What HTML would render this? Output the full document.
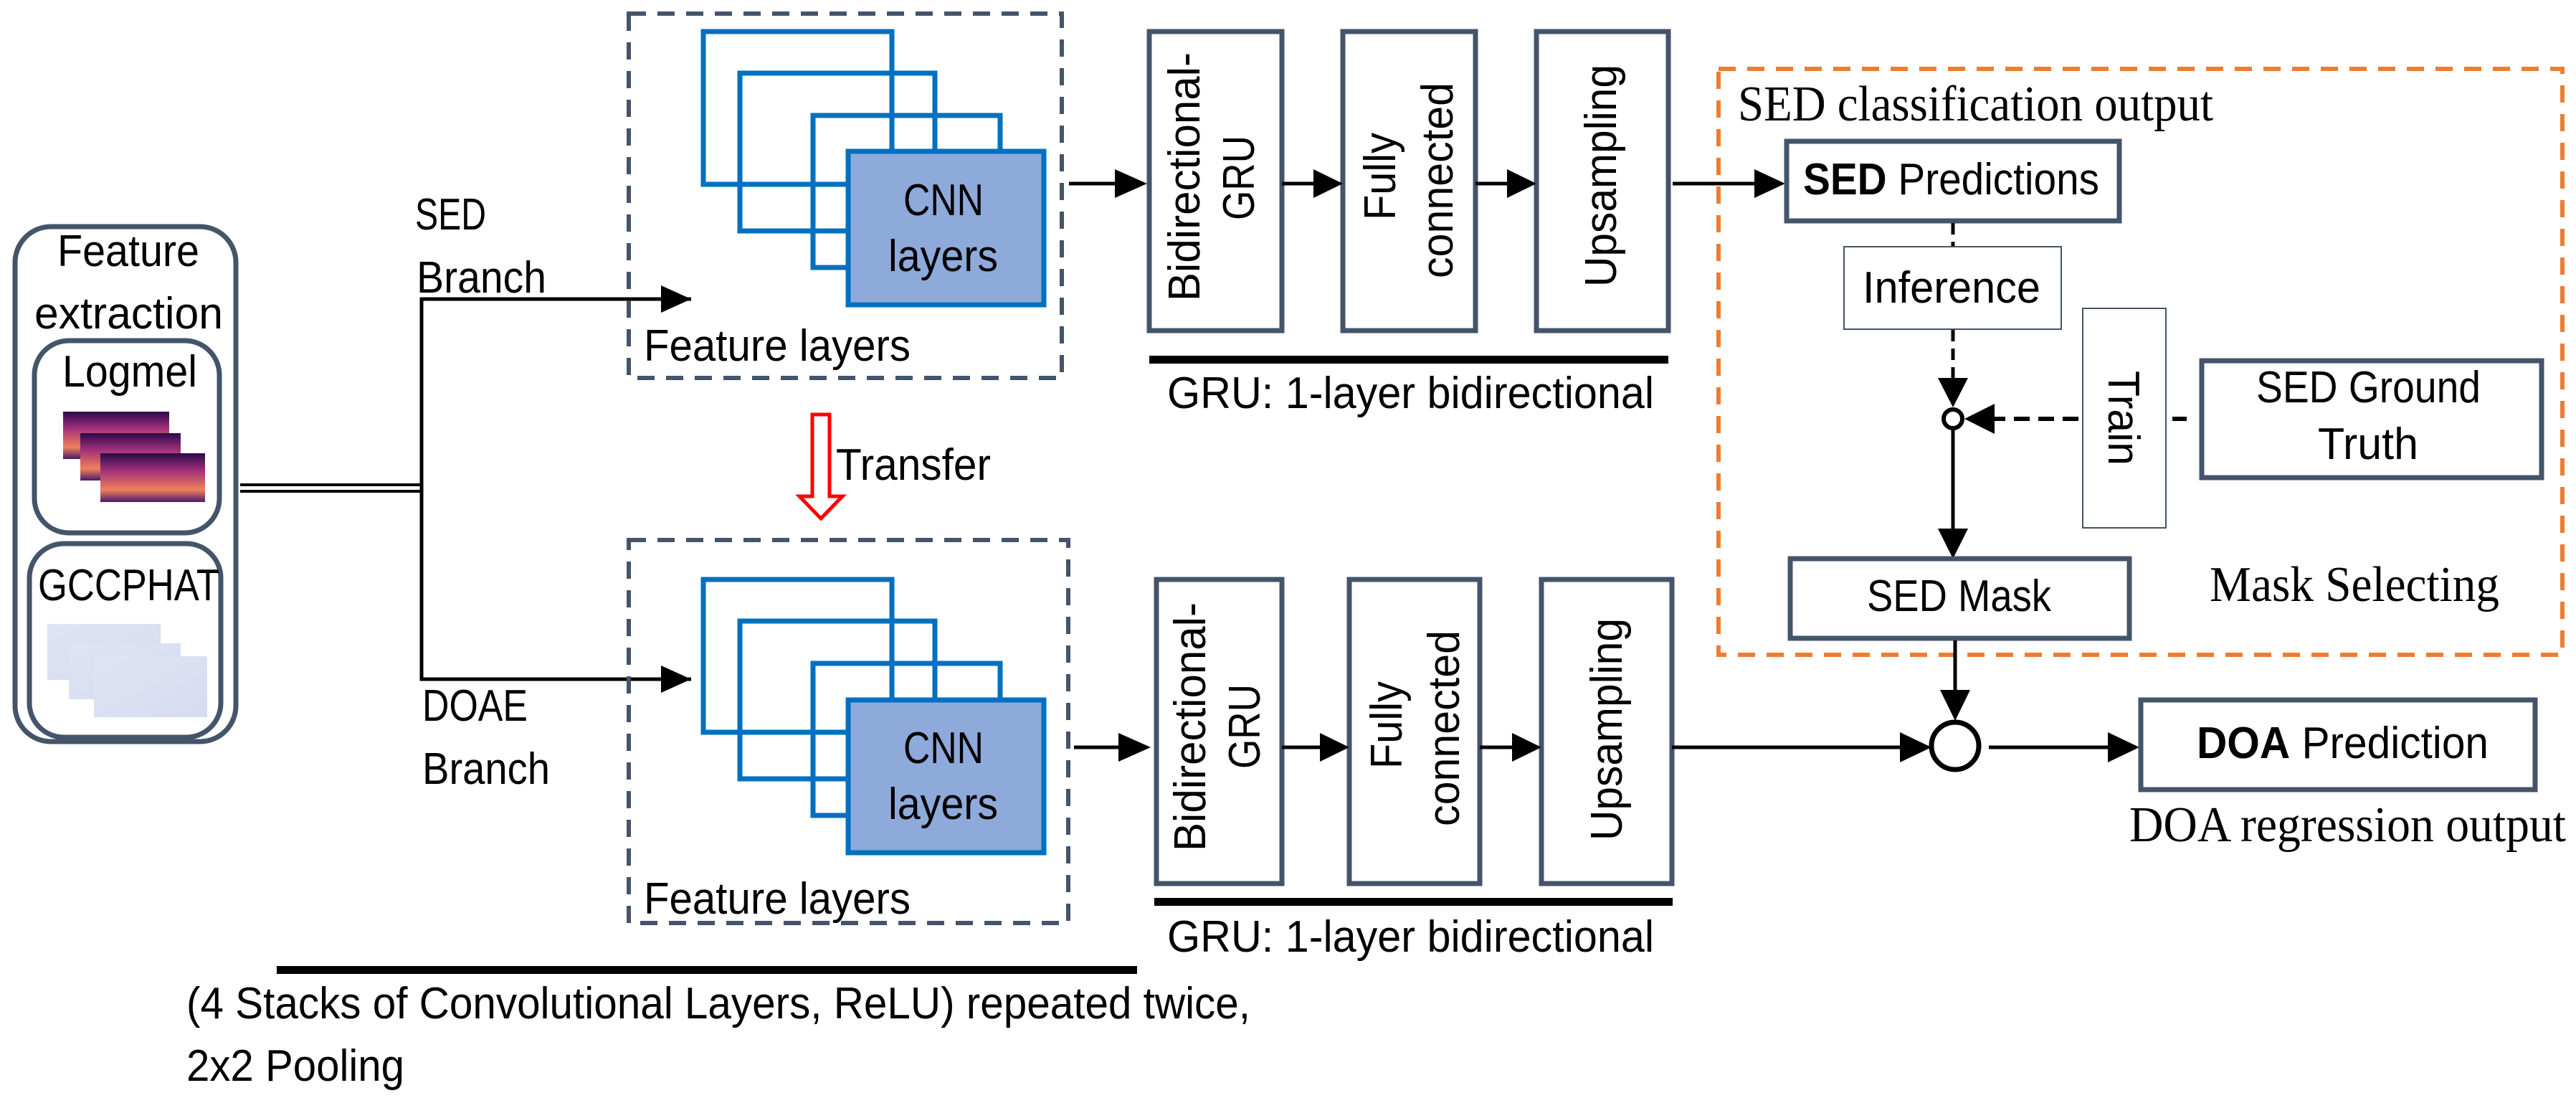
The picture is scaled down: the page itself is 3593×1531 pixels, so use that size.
<!DOCTYPE html>
<html><head><meta charset="utf-8"><style>
html,body{margin:0;padding:0;background:#fff;}
svg{display:block;}
text{font-family:"Liberation Sans",sans-serif;fill:#000;}
.s{font-size:62px;}
.t{font-family:"Liberation Serif",serif;font-size:70px;}
</style></head><body>
<svg width="3593" height="1531" viewBox="0 0 3593 1531" xmlns="http://www.w3.org/2000/svg">
<defs>
<linearGradient id="lm" x1="0" y1="0" x2="0" y2="1">
<stop offset="0" stop-color="#2a0a4a"/><stop offset="0.35" stop-color="#a0307a"/><stop offset="0.75" stop-color="#f0805a"/><stop offset="1" stop-color="#4a1a6a"/></linearGradient>
<linearGradient id="gc" x1="0" y1="0" x2="1" y2="1">
<stop offset="0" stop-color="#dfe4f4"/><stop offset="1" stop-color="#d6dcf0"/></linearGradient>
</defs>

<!-- Feature extraction -->
<rect x="21" y="316" width="308" height="718" rx="50" fill="none" stroke="#44546a" stroke-width="7"/>
<text class="s" x="80" y="371" textLength="198" lengthAdjust="spacingAndGlyphs">Feature</text>
<text class="s" x="48" y="458" textLength="263" lengthAdjust="spacingAndGlyphs">extraction</text>
<rect x="48" y="475" width="258" height="268" rx="48" fill="none" stroke="#44546a" stroke-width="7"/>
<text class="s" x="87" y="539" textLength="188" lengthAdjust="spacingAndGlyphs">Logmel</text>
<rect x="88" y="574" width="148" height="66" fill="url(#lm)"/>
<rect x="112" y="604" width="140" height="66" fill="url(#lm)"/>
<rect x="140" y="632" width="146" height="68" fill="url(#lm)"/>
<rect x="41" y="758" width="267" height="270" rx="48" fill="none" stroke="#44546a" stroke-width="7"/>
<text class="s" x="53" y="837" textLength="253" lengthAdjust="spacingAndGlyphs">GCCPHAT</text>
<rect x="66" y="870" width="158" height="78" fill="url(#gc)"/>
<rect x="96" y="897" width="156" height="78" fill="url(#gc)"/>
<rect x="131" y="915" width="158" height="85" fill="url(#gc)"/>

<!-- connectors left -->
<line x1="335" y1="676" x2="588" y2="676" stroke="#000" stroke-width="4"/>
<line x1="335" y1="685" x2="588" y2="685" stroke="#000" stroke-width="4"/>
<polyline points="964,417 588,417 588,947 964,947" fill="none" stroke="#000" stroke-width="5"/>
<polygon points="964,417 922,398 922,436" fill="#000"/>
<polygon points="964,947 922,928 922,966" fill="#000"/>
<text class="s" x="579" y="320" textLength="99" lengthAdjust="spacingAndGlyphs">SED</text>
<text class="s" x="581" y="408" textLength="181" lengthAdjust="spacingAndGlyphs">Branch</text>
<text class="s" x="589" y="1005" textLength="147" lengthAdjust="spacingAndGlyphs">DOAE</text>
<text class="s" x="589" y="1093" textLength="178" lengthAdjust="spacingAndGlyphs">Branch</text>

<!-- top feature layers -->
<rect x="877" y="19" width="604" height="508" fill="none" stroke="#44546a" stroke-width="6" stroke-dasharray="24,16"/>
<rect x="981" y="44" width="263" height="213" fill="none" stroke="#0070c0" stroke-width="7"/>
<rect x="1032" y="102" width="272" height="220" fill="none" stroke="#0070c0" stroke-width="7"/>
<rect x="1134" y="161" width="261" height="212" fill="none" stroke="#0070c0" stroke-width="7"/>
<rect x="1183" y="211" width="273" height="214" fill="#8eaadb" stroke="#0070c0" stroke-width="7"/>
<text class="s" x="1260" y="300" textLength="112" lengthAdjust="spacingAndGlyphs">CNN</text>
<text class="s" x="1239" y="378" textLength="153" lengthAdjust="spacingAndGlyphs">layers</text>
<text class="s" x="898" y="503" textLength="372" lengthAdjust="spacingAndGlyphs">Feature layers</text>

<!-- transfer -->
<polygon points="1133,578 1157,578 1157,692 1175,692 1145,723 1115,692 1133,692" fill="none" stroke="#f00" stroke-width="5"/>
<text class="s" x="1166" y="669" textLength="216" lengthAdjust="spacingAndGlyphs">Transfer</text>

<!-- bottom feature layers -->
<rect x="877" y="753" width="613" height="534" fill="none" stroke="#44546a" stroke-width="6" stroke-dasharray="24,16"/>
<rect x="981" y="808" width="263" height="213" fill="none" stroke="#0070c0" stroke-width="7"/>
<rect x="1032" y="866" width="272" height="220" fill="none" stroke="#0070c0" stroke-width="7"/>
<rect x="1134" y="925" width="261" height="212" fill="none" stroke="#0070c0" stroke-width="7"/>
<rect x="1183" y="976" width="273" height="213" fill="#8eaadb" stroke="#0070c0" stroke-width="7"/>
<text class="s" x="1260" y="1064" textLength="112" lengthAdjust="spacingAndGlyphs">CNN</text>
<text class="s" x="1239" y="1142" textLength="153" lengthAdjust="spacingAndGlyphs">layers</text>
<text class="s" x="898" y="1274" textLength="372" lengthAdjust="spacingAndGlyphs">Feature layers</text>

<!-- bottom caption -->
<rect x="386" y="1347" width="1200" height="11" fill="#000"/>
<text class="s" x="260" y="1420" textLength="1484" lengthAdjust="spacingAndGlyphs">(4 Stacks of Convolutional Layers, ReLU) repeated twice,</text>
<text class="s" x="260" y="1507" textLength="304" lengthAdjust="spacingAndGlyphs">2x2 Pooling</text>

<!-- arrows to GRU -->
<line x1="1491" y1="256" x2="1560" y2="256" stroke="#000" stroke-width="5"/>
<polygon points="1600,256 1555,236 1555,276" fill="#000"/>
<line x1="1498" y1="1042" x2="1565" y2="1042" stroke="#000" stroke-width="5"/>
<polygon points="1605,1042 1560,1022 1560,1062" fill="#000"/>

<!-- GRU chains -->
<g fill="none" stroke="#44546a" stroke-width="7">
<rect x="1603" y="44" width="185" height="417"/>
<rect x="1873" y="44" width="185" height="417"/>
<rect x="2143" y="44" width="184" height="417"/>
<rect x="1613" y="808" width="175" height="424"/>
<rect x="1882" y="808" width="182" height="424"/>
<rect x="2150" y="808" width="182" height="424"/>
</g>
<text class="s" transform="translate(1673,420) rotate(-90)" textLength="347" lengthAdjust="spacingAndGlyphs">Bidirectional-</text>
<text class="s" transform="translate(1749,307) rotate(-90)" textLength="118" lengthAdjust="spacingAndGlyphs">GRU</text>
<text class="s" transform="translate(1946,307) rotate(-90)" textLength="122" lengthAdjust="spacingAndGlyphs">Fully</text>
<text class="s" transform="translate(2026,388) rotate(-90)" textLength="273" lengthAdjust="spacingAndGlyphs">connected</text>
<text class="s" transform="translate(2254,400) rotate(-90)" textLength="310" lengthAdjust="spacingAndGlyphs">Upsampling</text>

<text class="s" transform="translate(1681,1187) rotate(-90)" textLength="347" lengthAdjust="spacingAndGlyphs">Bidirectional-</text>
<text class="s" transform="translate(1757,1072) rotate(-90)" textLength="118" lengthAdjust="spacingAndGlyphs">GRU</text>
<text class="s" transform="translate(1955,1072) rotate(-90)" textLength="122" lengthAdjust="spacingAndGlyphs">Fully</text>
<text class="s" transform="translate(2035,1152) rotate(-90)" textLength="273" lengthAdjust="spacingAndGlyphs">connected</text>
<text class="s" transform="translate(2262,1172) rotate(-90)" textLength="310" lengthAdjust="spacingAndGlyphs">Upsampling</text>

<line x1="1788" y1="256" x2="1840" y2="256" stroke="#000" stroke-width="5"/>
<polygon points="1873,256 1832,236 1832,276" fill="#000"/>
<line x1="2058" y1="256" x2="2110" y2="256" stroke="#000" stroke-width="5"/>
<polygon points="2143,256 2102,236 2102,276" fill="#000"/>
<line x1="1788" y1="1042" x2="1850" y2="1042" stroke="#000" stroke-width="5"/>
<polygon points="1882,1042 1841,1022 1841,1062" fill="#000"/>
<line x1="2064" y1="1042" x2="2118" y2="1042" stroke="#000" stroke-width="5"/>
<polygon points="2150,1042 2109,1022 2109,1062" fill="#000"/>

<rect x="1603" y="496" width="724" height="11" fill="#000"/>
<text class="s" x="1628" y="569" textLength="679" lengthAdjust="spacingAndGlyphs">GRU: 1-layer bidirectional</text>
<rect x="1610" y="1252" width="723" height="11" fill="#000"/>
<text class="s" x="1628" y="1327" textLength="679" lengthAdjust="spacingAndGlyphs">GRU: 1-layer bidirectional</text>

<!-- orange box -->
<rect x="2397" y="96" width="1177" height="817" fill="none" stroke="#ed7d31" stroke-width="6" stroke-dasharray="24,16"/>
<text class="t" x="2424" y="168" textLength="663" lengthAdjust="spacingAndGlyphs">SED classification output</text>

<line x1="2333" y1="256" x2="2450" y2="256" stroke="#000" stroke-width="5"/>
<polygon points="2490,256 2447,236 2447,276" fill="#000"/>

<rect x="2492" y="197" width="464" height="111" fill="#fff" stroke="#44546a" stroke-width="7"/>
<text class="s" x="2515" y="271" textLength="413" lengthAdjust="spacingAndGlyphs"><tspan font-weight="bold">SED</tspan> Predictions</text>

<line x1="2724" y1="311" x2="2724" y2="344" stroke="#000" stroke-width="5" stroke-dasharray="16,10"/>
<rect x="2572" y="344" width="303" height="115" fill="#fff" stroke="#44546a" stroke-width="2"/>
<text class="s" x="2598" y="422" textLength="248" lengthAdjust="spacingAndGlyphs">Inference</text>
<line x1="2724" y1="460" x2="2724" y2="530" stroke="#000" stroke-width="5" stroke-dasharray="16,10"/>
<polygon points="2724,568 2703,527 2745,527" fill="#000"/>
<circle cx="2724" cy="584" r="13" fill="#fff" stroke="#000" stroke-width="6"/>
<line x1="2899" y1="584" x2="2780" y2="584" stroke="#000" stroke-width="6" stroke-dasharray="22,12"/>
<polygon points="2740,584 2782,563 2782,605" fill="#000"/>
<rect x="2905" y="430" width="116" height="306" fill="#fff" stroke="#44546a" stroke-width="2"/>
<text class="s" transform="translate(2941,517) rotate(90)" textLength="132" lengthAdjust="spacingAndGlyphs">Train</text>
<line x1="3030" y1="584" x2="3050" y2="584" stroke="#000" stroke-width="6"/>
<rect x="3071" y="503" width="474" height="163" fill="#fff" stroke="#44546a" stroke-width="7"/>
<text class="s" x="3147" y="561" textLength="313" lengthAdjust="spacingAndGlyphs">SED Ground</text>
<text class="s" x="3233" y="640" textLength="140" lengthAdjust="spacingAndGlyphs">Truth</text>

<line x1="2724" y1="598" x2="2724" y2="740" stroke="#000" stroke-width="5"/>
<polygon points="2724,779 2703,737 2745,737" fill="#000"/>
<rect x="2497" y="779" width="473" height="111" fill="#fff" stroke="#44546a" stroke-width="7"/>
<text class="s" x="2604" y="852" textLength="257" lengthAdjust="spacingAndGlyphs">SED Mask</text>
<text class="t" x="3082" y="838" textLength="404" lengthAdjust="spacingAndGlyphs">Mask Selecting</text>

<line x1="2727" y1="893" x2="2727" y2="965" stroke="#000" stroke-width="5"/>
<polygon points="2727,1005 2706,962 2748,962" fill="#000"/>
<circle cx="2727" cy="1040" r="33" fill="#fff" stroke="#000" stroke-width="7"/>
<line x1="2332" y1="1042" x2="2655" y2="1042" stroke="#000" stroke-width="5"/>
<polygon points="2694,1042 2650,1021 2650,1063" fill="#000"/>
<line x1="2774" y1="1042" x2="2945" y2="1042" stroke="#000" stroke-width="5"/>
<polygon points="2984,1042 2940,1021 2940,1063" fill="#000"/>
<rect x="2986" y="976" width="550" height="125" fill="#fff" stroke="#44546a" stroke-width="7"/>
<text class="s" x="3064" y="1057" textLength="407" lengthAdjust="spacingAndGlyphs"><tspan font-weight="bold">DOA</tspan> Prediction</text>
<text class="t" x="2970" y="1173" textLength="609" lengthAdjust="spacingAndGlyphs">DOA regression output</text>
</svg>
</body></html>
